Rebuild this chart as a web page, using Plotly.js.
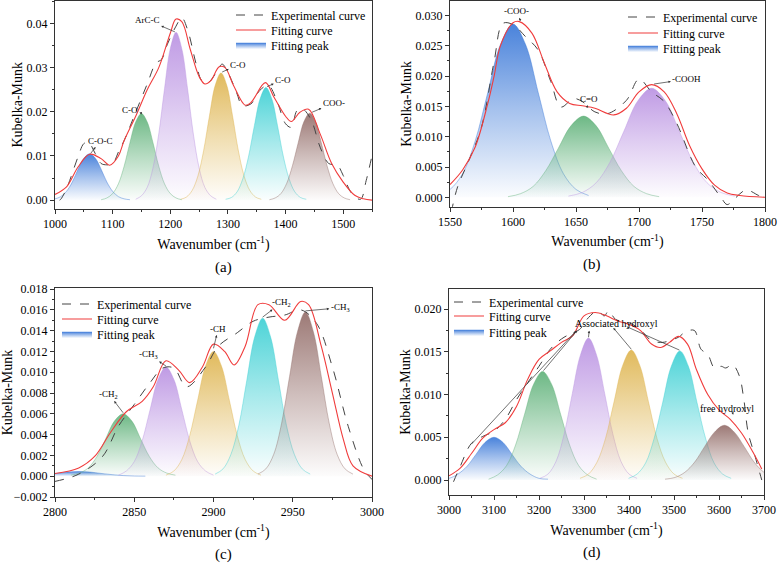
<!DOCTYPE html>
<html><head><meta charset="utf-8">
<script src="https://cdn.plot.ly/plotly-3.0.1.min.js"></script>
<style>html,body{margin:0;padding:0;background:#fff}#chart{width:779px;height:563px}</style>
</head><body><div id="chart"></div>
<script>
// ---------- Panel (a) 1000-1550 ----------
const aExpX = [1008,1010,1020,1040,1050,1058,1070,1080,1090,1100,1110,1120,1140,1160,1175,1185,1195,1210,1220,1230,1245,1255,1265,1280,1290,1300,1315,1325,1340,1355,1370,1385,1400,1410,1420,1430,1445,1460,1475,1490,1500,1515,1530,1540,1550];
const aExpY = [0.0,0.0002,0.0026,0.0098,0.0128,0.0131,0.0105,0.0083,0.008,0.0082,0.0109,0.0135,0.0199,0.0263,0.031,0.0319,0.0353,0.0394,0.0413,0.0386,0.0308,0.027,0.0266,0.0289,0.0308,0.0289,0.0244,0.0214,0.0218,0.0248,0.026,0.0225,0.0173,0.0165,0.0203,0.0206,0.018,0.012,0.0083,0.0079,0.0056,0.0015,0.0002,0.0045,0.0101];
const aFitX = [1000,1020,1040,1060,1080,1095,1110,1120,1140,1160,1180,1200,1210,1220,1235,1250,1260,1270,1285,1295,1310,1330,1340,1365,1380,1400,1410,1425,1440,1460,1480,1500,1520,1535,1550];
const aFitY = [0.0013,0.003,0.0075,0.0104,0.0094,0.0079,0.010,0.0135,0.019,0.025,0.030,0.0378,0.041,0.0404,0.034,0.028,0.0263,0.027,0.0302,0.030,0.0259,0.0215,0.0221,0.0266,0.0233,0.019,0.0178,0.0199,0.0206,0.015,0.0083,0.0041,0.0011,0.0003,0.0];
const aPeakX = [
  [990,1000,1010,1020,1030,1040,1050,1060,1070,1080,1090,1100,1110,1120,1130],
  [1080,1090,1100,1110,1120,1130,1140,1150,1160,1170,1180,1190,1200,1210,1220],
  [1140,1150,1160,1170,1180,1190,1200,1210,1220,1230,1240,1250,1260,1270,1280],
  [1218,1228,1238,1248,1258,1268,1278,1288,1298,1308,1318,1328,1338,1348,1358],
  [1296,1306,1316,1326,1336,1346,1356,1366,1376,1386,1396,1406,1416,1426,1436],
  [1372,1382,1392,1402,1412,1422,1432,1442,1452,1462,1472,1482,1492,1502,1512]];
const aPeakY = [
  [0.0001,0.0003,0.0008,0.0020,0.0041,0.0070,0.0095,0.0105,0.0095,0.0070,0.0041,0.0020,0.0008,0.0003,0.0001],
  [0.0001,0.0005,0.0015,0.0037,0.0077,0.0130,0.0177,0.0196,0.0177,0.0130,0.0077,0.0037,0.0015,0.0005,0.0001],
  [0.0002,0.0010,0.0029,0.0073,0.0150,0.0252,0.0343,0.0380,0.0343,0.0252,0.0150,0.0073,0.0029,0.0010,0.0002],
  [0.0002,0.0007,0.0022,0.0055,0.0113,0.0191,0.0260,0.0288,0.0260,0.0191,0.0113,0.0055,0.0022,0.0007,0.0002],
  [0.0002,0.0006,0.0019,0.0049,0.0100,0.0169,0.0230,0.0255,0.0230,0.0169,0.0100,0.0049,0.0019,0.0006,0.0002],
  [0.0001,0.0005,0.0015,0.0038,0.0078,0.0130,0.0178,0.0197,0.0178,0.0130,0.0078,0.0038,0.0015,0.0005,0.0001]];
const aLabels = ['C-O-C','C-O','ArC-C','C-O','C-O','COO-'];

// ---------- Panel (b) 1550-1800 ----------
const bExpX = [1551,1556,1565,1575,1585,1592,1600,1610,1620,1630,1638,1648,1655,1665,1675,1690,1700,1710,1720,1730,1745,1755,1765,1770,1776,1785,1795,1800];
const bExpY = [-0.0025,0.0017,0.0061,0.0116,0.0224,0.0287,0.0285,0.0265,0.0243,0.0191,0.0149,0.0163,0.0158,0.0141,0.0138,0.016,0.0195,0.0174,0.0158,0.0122,0.005,0.0028,0.0,-0.0012,-0.0002,0.0012,0.0003,0.0];
const bFitX = [1550,1560,1570,1580,1585,1590,1600,1605,1615,1625,1635,1645,1655,1665,1680,1690,1700,1710,1720,1730,1740,1750,1760,1770,1780,1800];
const bFitY = [0.0021,0.0045,0.0083,0.0155,0.020,0.025,0.0288,0.029,0.0271,0.0221,0.0174,0.0155,0.0151,0.0147,0.0136,0.0147,0.0174,0.0186,0.0174,0.0138,0.0086,0.0047,0.002,0.0007,0.0003,0.0];
const bPeakX = [
  [1540,1550,1560,1570,1580,1590,1600,1610,1620,1630,1640,1650,1660],
  [1596,1606,1616,1626,1636,1646,1656,1666,1676,1686,1696,1706,1716],
  [1644,1655,1666,1677,1688,1699,1710,1721,1732,1743,1754,1765,1776]];
const bPeakY = [
  [0.0003,0.0013,0.0039,0.0093,0.0173,0.0252,0.0286,0.0252,0.0173,0.0093,0.0039,0.0013,0.0003],
  [0.0001,0.0006,0.0018,0.0044,0.0081,0.0118,0.0134,0.0118,0.0081,0.0044,0.0018,0.0006,0.0001],
  [0.0002,0.0008,0.0024,0.0058,0.0109,0.0159,0.0180,0.0159,0.0109,0.0058,0.0024,0.0008,0.0002]];
const bLabels = ['-COO-','C=O','-COOH'];

// ---------- Panel (c) 2800-3000 ----------
const cExpX = [2800,2815,2830,2840,2850,2860,2868,2875,2883,2895,2903,2915,2925,2935,2945,2955,2965,2975,2985,2995,3000];
const cExpY = [-0.0005,0.0002,0.0019,0.0048,0.0069,0.009,0.0104,0.0104,0.0086,0.0105,0.0125,0.0138,0.0149,0.0153,0.0155,0.016,0.0147,0.0105,0.0048,0.0006,-0.0003];
const cFitX = [2800,2815,2825,2835,2845,2855,2862,2870,2878,2885,2893,2900,2907,2913,2920,2928,2935,2945,2955,2960,2968,2975,2982,2988,3000];
const cFitY = [0.00026,0.0008,0.0019,0.0042,0.0062,0.0072,0.0086,0.0111,0.0102,0.009,0.0105,0.0127,0.012,0.0107,0.0125,0.0165,0.0165,0.015,0.0168,0.0165,0.0125,0.008,0.0035,0.001,0.0];
const cPeakX = [
  [2773,2780,2787,2794,2801,2808,2815,2822,2829,2836,2843,2850,2857],
  [2810,2815.5,2821,2826.5,2832,2837.5,2843,2848.5,2854,2859.5,2865,2870.5,2876],
  [2840,2845,2850,2855,2860,2865,2870,2875,2880,2885,2890,2895,2900],
  [2870,2875,2880,2885,2890,2895,2900,2905,2910,2915,2920,2925,2930],
  [2901,2906,2911,2916,2921,2926,2931,2936,2941,2946,2951,2956,2961],
  [2928,2933,2938,2943,2948,2953,2958,2963,2968,2973,2978,2983,2988]];
const cPeakY = [
  [0.000005,0.00002,0.00006,0.00015,0.00027,0.0004,0.00045,0.0004,0.00027,0.00015,0.00006,0.00002,0.000005],
  [0.0001,0.0003,0.0008,0.0019,0.0036,0.0053,0.0060,0.0053,0.0036,0.0019,0.0008,0.0003,0.0001],
  [0.0001,0.0005,0.0014,0.0034,0.0064,0.0093,0.0105,0.0093,0.0064,0.0034,0.0014,0.0005,0.0001],
  [0.0001,0.0005,0.0016,0.0039,0.0073,0.0106,0.0120,0.0106,0.0073,0.0039,0.0016,0.0005,0.0001],
  [0.0002,0.0007,0.0021,0.0049,0.0092,0.0134,0.0152,0.0134,0.0092,0.0049,0.0021,0.0007,0.0002],
  [0.0002,0.0007,0.0021,0.0051,0.0096,0.0139,0.0158,0.0139,0.0096,0.0051,0.0021,0.0007,0.0002]];
const cLabels = ['-CH<sub>2</sub>','-CH<sub>3</sub>','-CH','-CH<sub>2</sub>','-CH<sub>3</sub>'];

// ---------- Panel (d) 3000-3700 ----------
const dExpX = [3010,3025,3050,3075,3100,3125,3150,3175,3200,3225,3250,3270,3290,3310,3330,3345,3355,3370,3400,3425,3450,3475,3490,3510,3525,3545,3560,3575,3590,3605,3615,3630,3645,3655,3665,3680,3695];
const dExpY = [-0.0002,0.0016,0.0043,0.0051,0.0057,0.0071,0.0094,0.0114,0.0133,0.0153,0.0165,0.0171,0.0176,0.019,0.0198,0.0192,0.0198,0.0188,0.0184,0.0176,0.0163,0.0161,0.0163,0.0167,0.0173,0.0175,0.0153,0.0147,0.0131,0.0133,0.0131,0.0135,0.0122,0.0095,0.0055,0.0028,0.0];
const dFitX = [3000,3025,3050,3075,3100,3125,3150,3175,3200,3225,3250,3275,3300,3325,3350,3375,3400,3425,3450,3470,3490,3510,3530,3550,3575,3600,3625,3650,3675,3695];
const dFitY = [0.0005,0.0014,0.0031,0.0049,0.0059,0.0067,0.0086,0.0118,0.0141,0.0151,0.0161,0.0169,0.0192,0.0196,0.0192,0.0186,0.0182,0.0175,0.0159,0.0155,0.0161,0.0168,0.0159,0.0129,0.01,0.0082,0.0071,0.0055,0.0033,0.0013];
const dPeakX = [
  [2980,3000,3020,3040,3060,3080,3100,3120,3140,3160,3180,3200,3220],
  [3088,3108,3128,3148,3168,3188,3208,3228,3248,3268,3288,3308,3328],
  [3202,3220,3238,3256,3274,3292,3310,3328,3346,3364,3382,3400,3418],
  [3291,3310,3329,3348,3367,3386,3405,3424,3443,3462,3481,3500,3519],
  [3399,3418,3437,3456,3475,3494,3513,3532,3551,3570,3589,3608,3627],
  [3480,3502,3524,3546,3568,3590,3612,3634,3656,3678,3700,3722,3744]];
const dPeakY = [
  [0.0001,0.0002,0.0007,0.0016,0.0030,0.0044,0.0050,0.0044,0.0030,0.0016,0.0007,0.0002,0.0001],
  [0.0001,0.0006,0.0017,0.0041,0.0077,0.0112,0.0127,0.0112,0.0077,0.0041,0.0017,0.0006,0.0001],
  [0.0002,0.0007,0.0022,0.0054,0.0101,0.0146,0.0166,0.0146,0.0101,0.0054,0.0022,0.0007,0.0002],
  [0.0002,0.0007,0.0021,0.0049,0.0092,0.0134,0.0152,0.0134,0.0092,0.0049,0.0021,0.0007,0.0002],
  [0.0002,0.0007,0.0020,0.0049,0.0091,0.0133,0.0151,0.0133,0.0091,0.0049,0.0020,0.0007,0.0002],
  [0.0001,0.0003,0.0009,0.0021,0.0039,0.0056,0.0064,0.0056,0.0039,0.0021,0.0009,0.0003,0.0001]];
const dLabels = ['Associated hydroxyl','free hydroxyl'];

const legendNames = ['Experimental curve','Fitting curve','Fitting peak'];

// ---------- styles ----------
const SERIF = 'Liberation Serif';
const PEAK_RGB = {
  blue:[58,120,216], green:[96,178,122], purple:[186,146,226],
  gold:[222,180,78], cyan:[62,208,212], brown:[148,110,106]};
const aCols = ['blue','green','purple','gold','cyan','brown'];
const bCols = ['blue','green','purple'];
const cCols = ['blue','green','purple','gold','cyan','brown'];
const dCols = ['blue','green','purple','gold','cyan','brown'];

function rgba(c,a){return 'rgba('+c[0]+','+c[1]+','+c[2]+','+a+')';}
function legId(n){return n===1?'legend':'legend'+n;}

const traces = [];
function addPanel(p, sfx, expX, expY, fitX, fitY, peakX, peakY, cols){
  const xa = 'x'+sfx, ya = 'y'+sfx;
  const base = p*3;
  peakX.forEach((px,i)=>{
    const c = PEAK_RGB[cols[i]];
    traces.push({type:'scatter', mode:'lines', x:px, y:peakY[i], xaxis:xa, yaxis:ya,
      line:{color:rgba(c,0.55), width:0.8, shape:'spline'},
      fill:'tozeroy',
      fillgradient:{type:'vertical', colorscale:[[0,rgba(c,0.02)],[0.5,rgba(c,0.45)],[1,rgba(c,0.92)]]},
      name:legendNames[2], legend:legId(base+3), showlegend:i===0, hoverinfo:'skip'});
  });
  traces.push({type:'scatter', mode:'lines', x:expX, y:expY, xaxis:xa, yaxis:ya,
    line:{color:'#444', width:1, dash:'dash', shape:'spline'},
    name:legendNames[0], legend:legId(base+1)});
  traces.push({type:'scatter', mode:'lines', x:fitX, y:fitY, xaxis:xa, yaxis:ya,
    line:{color:'#f03c3c', width:1.1, shape:'spline'},
    name:legendNames[1], legend:legId(base+2)});
}
addPanel(0, '',  aExpX,aExpY,aFitX,aFitY,aPeakX,aPeakY,aCols);
addPanel(1, '2', bExpX,bExpY,bFitX,bFitY,bPeakX,bPeakY,bCols);
addPanel(2, '3', cExpX,cExpY,cFitX,cFitY,cPeakX,cPeakY,cCols);
addPanel(3, '4', dExpX,dExpY,dFitX,dFitY,dPeakX,dPeakY,dCols);

const W=779, H=563;
const px = v=>v/W, py = v=>1-v/H;

function xAxis(dom, range, dtick, anchor){
  return {domain:dom, range:range, dtick:dtick, anchor:anchor,
    showline:true, linecolor:'#333', linewidth:1, mirror:true,
    ticks:'outside', ticklen:4, tickwidth:1, tickcolor:'#333',
    minor:{ticks:'outside', ticklen:2, tickcolor:'#333', dtick:dtick/2},
    showgrid:false, zeroline:false,
    tickfont:{family:SERIF,size:12,color:'#000'},
    title:{text:'Wavenumber (cm<sup>-1</sup>)', font:{family:SERIF,size:14,color:'#000'}, standoff:8}};
}
function yAxis(dom, range, dtick, fmt, anchor){
  return {domain:dom, range:range, dtick:dtick, tickformat:fmt, anchor:anchor,
    showline:true, linecolor:'#333', linewidth:1, mirror:true,
    ticks:'outside', ticklen:4, tickwidth:1, tickcolor:'#333',
    minor:{ticks:'outside', ticklen:2, tickcolor:'#333', dtick:dtick/2},
    showgrid:false, zeroline:false,
    tickfont:{family:SERIF,size:12,color:'#000'},
    title:{text:'Kubelka-Munk', font:{family:SERIF,size:14,color:'#000'}, standoff:0}};
}
function legendAt(textLeft, rowY){
  return {x:px(textLeft-40), y:py(rowY), xanchor:'left', yanchor:'middle', bgcolor:'rgba(0,0,0,0)',
    borderwidth:0, font:{family:SERIF,size:12,color:'#000'}, itemclick:false};
}

const annFont = {family:SERIF, size:9, color:'#000'};
// label with arrow from the peak top (x,y) to the label at (tx,ty); arrowhead at the label side
function lab(xr, yr, tx, ty, x, y, text){
  return {xref:xr, yref:yr, x:x, y:y, axref:xr, ayref:yr, ax:tx, ay:ty, text:text, showarrow:true,
    arrowside:'start', arrowhead:2, startarrowhead:2, startarrowsize:0.7, arrowsize:0.7, arrowwidth:0.7,
    arrowcolor:'#333', font:annFont, standoff:0, startstandoff:0};
}
function arr(xr, yr, hx, hy, x, y){
  return {xref:xr, yref:yr, x:x, y:y, axref:xr, ayref:yr, ax:hx, ay:hy, text:' ', showarrow:true,
    arrowside:'start', startarrowhead:2, startarrowsize:0.7, arrowwidth:0.7, arrowcolor:'#333', font:{size:1}};
}

const letterFont = {family:SERIF,size:15,color:'#000'};
const annotations = [
  // panel (a)
  lab('x','y',1079,0.0135,1062,0.0106,aLabels[0]),
  lab('x','y',1130,0.0203,1150,0.0197,aLabels[1]),
  lab('x','y',1160,0.0408,1208,0.0381,aLabels[2]),
  lab('x','y',1318,0.0307,1290,0.0290,aLabels[3]),
  lab('x','y',1396,0.0273,1368,0.0257,aLabels[4]),
  lab('x','y',1484,0.0220,1446,0.0199,aLabels[5]),
  // panel (b)
  lab('x2','y2',1603,0.0307,1606,0.0291,bLabels[0]),
  lab('x2','y2',1660,0.0163,1659,0.0151,bLabels[1]),
  lab('x2','y2',1738,0.0195,1712,0.0187,bLabels[2]),
  // panel (c)
  lab('x3','y3',2834,0.0079,2843,0.0061,cLabels[0]),
  lab('x3','y3',2859,0.0117,2870,0.0106,cLabels[1]),
  lab('x3','y3',2903,0.0142,2900,0.0123,cLabels[2]),
  lab('x3','y3',2943,0.0167,2931,0.0153,cLabels[3]),
  lab('x3','y3',2980,0.0162,2958,0.0159,cLabels[4]),
  // panel (d)
  {xref:'x4', yref:'y4', x:3372, y:0.0183, text:dLabels[0], showarrow:false, font:{family:SERIF,size:10,color:'#000'}},
  arr('x4','y4',3288,0.0177,3210,0.0128),
  arr('x4','y4',3285,0.0176,3050,0.0042),
  arr('x4','y4',3312,0.0177,3310,0.0167),
  arr('x4','y4',3362,0.0180,3405,0.0153),
  arr('x4','y4',3392,0.0180,3512,0.0152),
  {xref:'x4', yref:'y4', x:3618, y:0.0084, text:dLabels[1], showarrow:false, font:{family:SERIF,size:10,color:'#000'}},
  arr('x4','y4',3633,0.0074,3630,0.0079),
  // panel letters
  {xref:'paper',yref:'paper',x:px(213),y:py(267),yanchor:'middle',text:'(a)',showarrow:false,font:letterFont},
  {xref:'paper',yref:'paper',x:px(603),y:py(265),yanchor:'middle',text:'(b)',showarrow:false,font:letterFont},
  {xref:'paper',yref:'paper',x:px(213),y:py(554),yanchor:'middle',text:'(c)',showarrow:false,font:letterFont},
  {xref:'paper',yref:'paper',x:px(603),y:py(552),yanchor:'middle',text:'(d)',showarrow:false,font:letterFont}
];

const layout = {
  width:W, height:H, margin:{l:0,r:0,t:0,b:0}, paper_bgcolor:'#fff', plot_bgcolor:'#fff',
  font:{family:SERIF, color:'#000'},
  xaxis:  xAxis([px(55),px(372)], [1000,1550], 100, 'y'),
  yaxis:  yAxis([py(209),py(0.5)], [-0.002,0.0452], 0.01, '.2f', 'x'),
  xaxis2: xAxis([px(450),px(765)], [1550,1800], 50, 'y2'),
  yaxis2: yAxis([py(206.7),py(1)], [-0.00155,0.0324], 0.005, '.3f', 'x2'),
  xaxis3: xAxis([px(55),px(372)], [2800,3000], 50, 'y3'),
  yaxis3: yAxis([py(497),py(288)], [-0.002,0.0181], 0.002, '.3f', 'x3'),
  xaxis4: xAxis([px(449),px(764)], [3000,3700], 100, 'y4'),
  yaxis4: yAxis([py(495),py(289)], [-0.00175,0.02234], 0.005, '.3f', 'x4'),
  legend:   legendAt(271, 15),  legend2:  legendAt(271, 30),  legend3:  legendAt(271, 45),
  legend4:  legendAt(663, 17),  legend5:  legendAt(663, 33),  legend6:  legendAt(663, 48),
  legend7:  legendAt(97, 304),  legend8:  legendAt(97, 319),  legend9:  legendAt(97, 334),
  legend10: legendAt(489, 302), legend11: legendAt(489, 316), legend12: legendAt(489, 332),
  annotations: annotations,
  showlegend:true
};

Plotly.newPlot('chart', traces, layout, {staticPlot:true, displayModeBar:false});
</script></body></html>
